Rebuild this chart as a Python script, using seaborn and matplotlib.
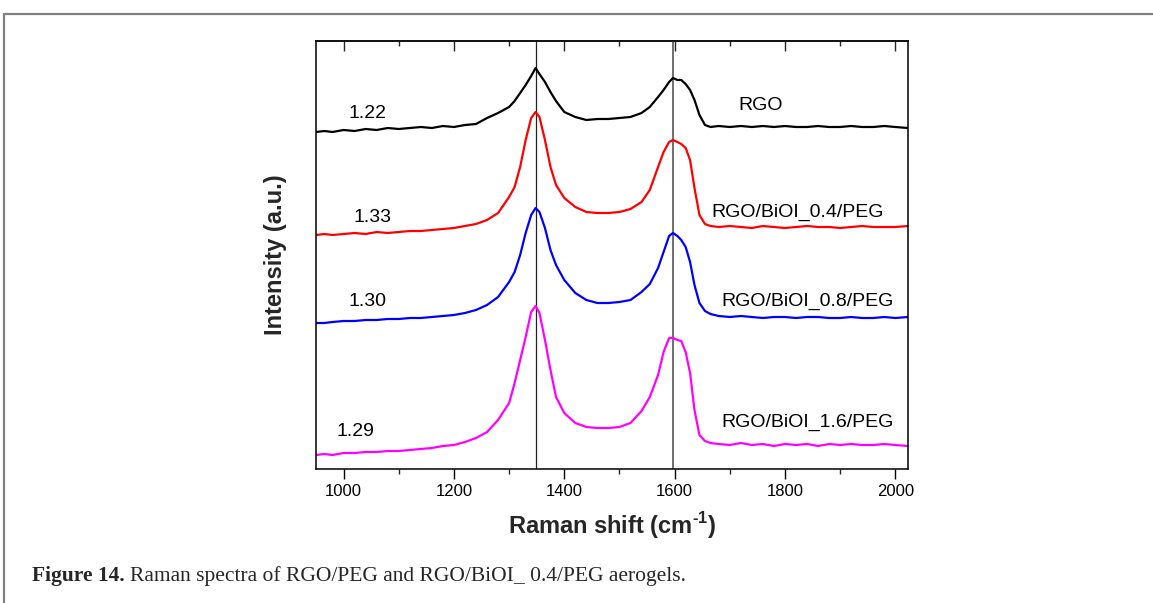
import matplotlib
matplotlib.use("Agg")
import matplotlib.pyplot as plt
import pandas as pd
import seaborn as sns
from matplotlib.ticker import MultipleLocator, NullFormatter
from matplotlib.lines import Line2D

# ---------------- data ----------------
shift = [950, 965, 980, 1000, 1020, 1040, 1060, 1080, 1100, 1120,
         1140, 1160, 1180, 1200, 1220, 1240, 1260, 1280, 1300, 1310,
         1320, 1330, 1340, 1348, 1355, 1365, 1375, 1385, 1400, 1420,
         1440, 1460, 1480, 1500, 1520, 1540, 1555, 1570, 1580, 1590,
         1597, 1605, 1612, 1620, 1628, 1636, 1645, 1655, 1665, 1680,
         1700, 1720, 1740, 1760, 1780, 1800, 1820, 1840, 1860, 1880,
         1900, 1920, 1940, 1960, 1980, 2000, 2023]

rgo = [337, 338, 337, 339, 338, 340, 339, 341, 340, 341,
       342, 341, 343, 342, 344, 345, 351, 356, 362, 368,
       376, 384, 393, 401, 395, 387, 377, 368, 357, 352,
       349, 350, 350, 351, 352, 356, 362, 372, 379, 387,
       391, 389, 389, 385, 379, 369, 354, 344, 342, 343,
       342, 343, 342, 343, 342, 343, 342, 342, 343, 342,
       342, 343, 342, 342, 343, 342, 341]

biol_04 = [234, 235, 234, 235, 236, 235, 237, 236, 237, 238,
           238, 239, 240, 241, 243, 245, 249, 256, 272, 282,
           302, 329, 351, 357, 352, 329, 302, 284, 271, 262,
           257, 256, 256, 257, 260, 267, 279, 302, 317, 327,
           329, 327, 325, 321, 309, 281, 254, 245, 243, 242,
           243, 242, 241, 243, 242, 241, 242, 243, 242, 242,
           241, 242, 243, 242, 242, 242, 243]

biol_08 = [146, 146, 147, 148, 148, 149, 149, 150, 150, 151,
           151, 152, 153, 154, 156, 159, 164, 172, 187, 197,
           214, 236, 254, 261, 257, 241, 219, 204, 189, 176,
           169, 166, 166, 167, 169, 177, 185, 201, 217, 233,
           236, 233, 229, 222, 207, 184, 166, 158, 155, 153,
           152, 153, 152, 151, 152, 152, 151, 152, 152, 151,
           151, 152, 151, 151, 152, 151, 152]

biol_16 = [14, 15, 14, 16, 16, 17, 17, 18, 18, 19,
           20, 21, 23, 24, 27, 31, 37, 49, 66, 86,
           109, 132, 157, 163, 156, 129, 99, 72, 56, 46,
           42, 41, 41, 42, 46, 58, 72, 94, 117, 131,
           131, 129, 128, 117, 96, 59, 34, 28, 26, 25,
           24, 26, 24, 25, 23, 25, 24, 25, 23, 25,
           24, 25, 24, 24, 25, 24, 23]

series_names = ["RGO", "RGO/BiOI_0.4/PEG", "RGO/BiOI_0.8/PEG", "RGO/BiOI_1.6/PEG"]
id_ig_ratios = ["1.22", "1.33", "1.30", "1.29"]
peak_lines = [1348, 1597]
x_ticks = [1000, 1200, 1400, 1600, 1800, 2000]

# ---------------- styling ----------------
sns.set_style("ticks")
plt.rcParams["font.family"] = ["Liberation Sans", "DejaVu Sans"]
plt.rcParams["mathtext.fontset"] = "custom"
plt.rcParams["mathtext.rm"] = "Liberation Sans:bold"
plt.rcParams["mathtext.bf"] = "Liberation Sans:bold"

colors = ["#000000", "#ff0000", "#0000ff", "#ff00ff"]
palette = dict(zip(series_names, colors))

W, H = 1153, 603
fig = plt.figure(figsize=(W / 100, H / 100), dpi=100)
fig.patch.set_facecolor("white")
ax = fig.add_axes([316 / W, 134 / H, 592 / W, 428 / H])

frames = []
for name, vals in zip(series_names, [rgo, biol_04, biol_08, biol_16]):
    frames.append(pd.DataFrame({"shift": shift, "intensity": vals, "sample": name}))
df = pd.concat(frames, ignore_index=True)

sns.lineplot(data=df, x="shift", y="intensity", hue="sample", palette=palette,
             estimator=None, sort=False, linewidth=1.6, legend=False, ax=ax)

ax.axvline(peak_lines[0], color="#222222", lw=0.9, zorder=0.5)
ax.axvline(peak_lines[1], color="#555555", lw=1.2, zorder=0.5)

ax.set_xlim(950, 2023)
ax.set_ylim(0, 428)

for s in ax.spines.values():
    s.set_visible(True)
    s.set_linewidth(1.1)
    s.set_color("black")

ax.set_xticks(x_ticks)
ax.xaxis.set_minor_locator(MultipleLocator(100))
ax.set_yticks([])
ax.tick_params(axis="x", which="major", direction="out", length=7, width=1.0,
               labelsize=12, pad=4, colors="black")
ax.tick_params(axis="x", which="minor", direction="out", length=3.5, width=1.0)

top = ax.secondary_xaxis("top")
top.set_xticks(x_ticks)
top.xaxis.set_minor_locator(MultipleLocator(100))
top.xaxis.set_major_formatter(NullFormatter())
top.tick_params(axis="x", which="major", direction="in", length=7, width=1.0)
top.tick_params(axis="x", which="minor", direction="in", length=3.5, width=1.0)
top.spines["top"].set_linewidth(1.1)

ax.set_xlabel(r"Raman shift (cm$^{\text{-1}}$)", fontsize=17, fontweight="bold", labelpad=8)
ax.set_ylabel("Intensity (a.u.)", fontsize=17, fontweight="bold", labelpad=21)

# in-plot annotations
ratio_pos = [(1043, 356), (1052, 251), (1043, 167), (1021, 38)]
name_pos = [(1756, 364), (1823, 257), (1841, 168), (1841, 47)]
for txt, (xx, yy) in zip(id_ig_ratios, ratio_pos):
    ax.text(xx, yy, txt, fontsize=14, ha="center", va="center", color="black")
for txt, (xx, yy) in zip(series_names, name_pos):
    ax.text(xx, yy, txt, fontsize=14, ha="center", va="center", color="black")

# page frame lines
fig.add_artist(Line2D([4 / W, 1.0], [1 - 14 / H, 1 - 14 / H], transform=fig.transFigure,
                      color="#808080", lw=1.6))
fig.add_artist(Line2D([4 / W, 4 / W], [0, 1 - 14 / H], transform=fig.transFigure,
                      color="#808080", lw=1.6))

# caption
renderer = fig.canvas.get_renderer()
t1 = fig.text(32 / W, 1 - 576 / H, "Figure 14.", fontsize=15.5, fontweight="bold",
              family=["Liberation Serif"], va="center", ha="left")
bb = t1.get_window_extent(renderer=renderer)
fig.text((bb.x1 + 5) / W, 1 - 576 / H,
         "Raman spectra of RGO/PEG and RGO/BiOI_ 0.4/PEG aerogels.",
         fontsize=15.5, family=["Liberation Serif"], va="center", ha="left")

fig.savefig("out.png", dpi=100)
